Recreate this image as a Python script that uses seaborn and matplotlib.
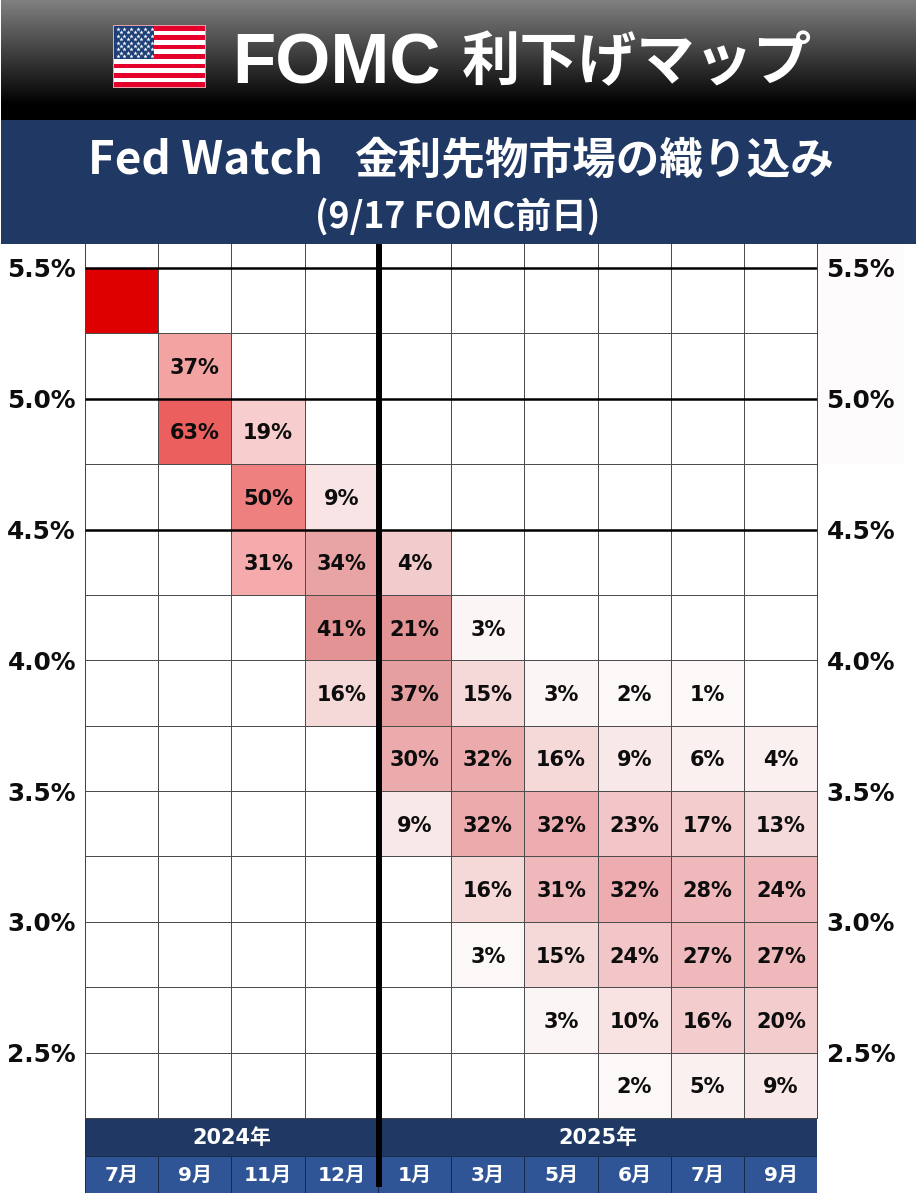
import numpy as np
import pandas as pd
import matplotlib
matplotlib.use('Agg')
import matplotlib.pyplot as plt
from matplotlib.colors import ListedColormap
from matplotlib.patches import Rectangle
import seaborn as sns

months = ['7月', '9月', '11月', '12月', '1月', '3月', '5月', '6月', '7月', '9月']
years = ['2024年', '2025年']
year_spans = [4, 6]
rate_ticks = [5.5, 5.0, 4.5, 4.0, 3.5, 3.0, 2.5]
bold_rates = [5.5, 5.0, 4.5]
row_tops = [5.75, 5.5, 5.25, 5.0, 4.75, 4.5, 4.25, 4.0, 3.75, 3.5, 3.25, 3.0, 2.75, 2.5]

# probabilities printed in the cells, 0 = empty
pct = [
    [0, 0, 0, 0, 0, 0, 0, 0, 0, 0],
    [0, 0, 0, 0, 0, 0, 0, 0, 0, 0],
    [0, 37, 0, 0, 0, 0, 0, 0, 0, 0],
    [0, 63, 19, 0, 0, 0, 0, 0, 0, 0],
    [0, 0, 50, 9, 0, 0, 0, 0, 0, 0],
    [0, 0, 31, 34, 4, 0, 0, 0, 0, 0],
    [0, 0, 0, 41, 21, 3, 0, 0, 0, 0],
    [0, 0, 0, 16, 37, 15, 3, 2, 1, 0],
    [0, 0, 0, 0, 30, 32, 16, 9, 6, 4],
    [0, 0, 0, 0, 9, 32, 32, 23, 17, 13],
    [0, 0, 0, 0, 0, 16, 31, 32, 28, 24],
    [0, 0, 0, 0, 0, 3, 15, 24, 27, 27],
    [0, 0, 0, 0, 0, 0, 3, 10, 16, 20],
    [0, 0, 0, 0, 0, 0, 0, 2, 5, 9],
]

# the fills are hand picked in the original, so each cell points into this palette
palette = ['#ffffff', '#de0000', '#f4a3a3', '#ec5f5f', '#f8cdcd', '#ef8080', '#f8e4e4',
           '#f5abab', '#e8a4a4', '#f2cccc', '#e39394', '#fcf5f5', '#f5d8d8', '#e69fa1',
           '#ebabac', '#edadb0', '#f2c6c8', '#f5dadb', '#efb8ba', '#f8e8e8', '#fbf0f0',
           '#fdf8f8', '#f3cdce', '#f8e2e2']
fill_index = [
    [0, 0, 0, 0, 0, 0, 0, 0, 0, 0],
    [1, 0, 0, 0, 0, 0, 0, 0, 0, 0],
    [0, 2, 0, 0, 0, 0, 0, 0, 0, 0],
    [0, 3, 4, 0, 0, 0, 0, 0, 0, 0],
    [0, 0, 5, 6, 0, 0, 0, 0, 0, 0],
    [0, 0, 7, 8, 9, 0, 0, 0, 0, 0],
    [0, 0, 0, 10, 10, 11, 0, 0, 0, 0],
    [0, 0, 0, 12, 13, 12, 11, 21, 21, 0],
    [0, 0, 0, 0, 14, 14, 12, 19, 20, 20],
    [0, 0, 0, 0, 19, 14, 15, 16, 22, 17],
    [0, 0, 0, 0, 0, 12, 18, 15, 18, 18],
    [0, 0, 0, 0, 0, 21, 12, 16, 18, 18],
    [0, 0, 0, 0, 0, 0, 11, 23, 22, 22],
    [0, 0, 0, 0, 0, 0, 0, 21, 20, 19],
]

W, H = 916, 1200
LEFT, RIGHT, TOP, BOTTOM = 85.0, 817.5, 244, 1118
ROW_H = 65.4
NAVY = '#1f3864'
BLUE = '#2f5597'
LATIN = ['DejaVu Sans', 'Noto Sans CJK JP']
JP = ['Noto Sans CJK JP', 'DejaVu Sans']

sns.set_theme(style='white')
plt.rcParams['font.family'] = LATIN


def axes_px(fig, x0, y0, x1, y1):
    return fig.add_axes([x0 / W, 1 - y1 / H, (x1 - x0) / W, (y1 - y0) / H])


def draw_flag(bg):
    x0, y0, x1, y1 = 114, 26, 205, 87
    bg.add_patch(Rectangle((x0 - 1, y0 - 1), x1 - x0 + 2, y1 - y0 + 2, fc='#e8a0a8', ec='none', zorder=2))
    h = (y1 - y0) / 13
    for i in range(13):
        c = '#e4002b' if i % 2 == 0 else 'white'
        bg.add_patch(Rectangle((x0, y0 + i * h), x1 - x0, h, fc=c, ec='none', zorder=2))
    bg.add_patch(Rectangle((x0, y0), 40, 7 * h, fc='#1c3f78', ec='none', zorder=2))
    for r in range(9):
        n = 6 if r % 2 == 0 else 5
        sx = x0 + 3.5 + (0 if r % 2 == 0 else 3.4) + np.arange(n) * 6.8
        bg.scatter(sx, np.full(n, y0 + 3 + r * 3.4), s=11, c='white', marker='*', linewidths=0, zorder=3)


fig = plt.figure(figsize=(W / 100, H / 100), dpi=100, facecolor='white')

# backdrop in pixel coordinates
bg = axes_px(fig, 0, 0, W, H)
grad = np.concatenate([np.linspace(0.50, 0.0, 105), np.zeros(15)]).reshape(-1, 1)
bg.imshow(grad, cmap='gray', vmin=0, vmax=1, extent=(1, W, 120, 0), aspect='auto', zorder=1)
bg.set_xlim(0, W)
bg.set_ylim(H, 0)
bg.axis('off')
bg.add_patch(Rectangle((1, 120), W, 124, fc=NAVY, ec='none', zorder=1))
bg.add_patch(Rectangle((RIGHT, TOP), 86, 220, fc='#fdfbfc', ec='none', zorder=1))
draw_flag(bg)

bg.text(232, 83, 'FOMC', family='Liberation Sans', weight='bold', fontsize=51, color='white', va='baseline', ha='left')
bg.text(462, 80, '利下げマップ', family=JP, weight='bold', fontsize=42, color='white', va='baseline', ha='left')
bg.text(88, 174, 'Fed Watch', family=JP, weight='bold', fontsize=33, color='white', va='baseline', ha='left')
bg.text(354, 174, '金利先物市場の織り込み', family=JP, weight='bold', fontsize=31.4, color='white', va='baseline', ha='left')
bg.text(458, 228, '(9/17 FOMC前日)', family=JP, weight='bold', fontsize=25.7, color='white', va='baseline', ha='center')

# main grid
ax = axes_px(fig, LEFT, TOP, RIGHT, BOTTOM)
ax.set_zorder(5)
df = pd.DataFrame(fill_index, index=row_tops, columns=range(len(months)))
labels = np.array([[f'{v}%' if v else '' for v in row] for row in pct])
sns.heatmap(df, ax=ax, cmap=ListedColormap(palette), vmin=-0.5, vmax=len(palette) - 0.5, cbar=False,
            annot=labels, fmt='',
            annot_kws={'fontsize': 15, 'fontweight': 'bold', 'color': '#0d0d0d', 'va': 'center_baseline'},
            linewidths=0.45, linecolor='#4d4d4d', square=False)

n_rows = len(row_tops)
ax.set_ylim(n_rows, 1 - (268 - TOP) / ROW_H)
ticks = [(row_tops[0] - r) / 0.25 for r in rate_ticks]
ax.set_yticks(ticks)
ax.set_yticklabels([f'{r:.1f}%' for r in rate_ticks], rotation=0, fontsize=17.8, fontweight='bold', color='#0d0d0d')
ax.set_xticks([])
ax.set_xlabel('')
ax.tick_params(axis='y', length=0, pad=6.5, labelleft=True, labelright=True)
for tick in ax.yaxis.get_major_ticks():
    tick.label1.set_va('center_baseline')
    tick.label2.set_va('center_baseline')
ax.hlines([(row_tops[0] - r) / 0.25 for r in bold_rates], 0, len(months), color='black', lw=1.8, zorder=4)
for side in ['left', 'right', 'bottom']:
    ax.spines[side].set_visible(True)
    ax.spines[side].set_color('#444444')
    ax.spines[side].set_linewidth(0.7)
ax.spines['top'].set_visible(False)

split = year_spans[0]
ax.plot([split + 0.01, split + 0.01], [1 - (268 - TOP) / ROW_H, n_rows + (1187 - BOTTOM) / ROW_H],
        color='black', lw=4.3, clip_on=False, zorder=6, solid_capstyle='butt')

# year band
ax_year = axes_px(fig, LEFT, BOTTOM, RIGHT, 1156)
ax_year.set_xlim(0, len(months))
ax_year.set_ylim(0, 1)
ax_year.axis('off')
start = 0
for name, span in zip(years, year_spans):
    ax_year.add_patch(Rectangle((start, 0), span, 1, fc=NAVY, ec='#16294a', lw=0.7))
    ax_year.text(start + span / 2, 0.48, name, ha='center', va='center',
                 color='white', fontsize=15, fontweight='bold')
    start += span

# month band
ax_month = axes_px(fig, LEFT, 1156, RIGHT, 1192.5)
ax_month.set_xlim(0, len(months))
ax_month.set_ylim(0, 1)
ax_month.axis('off')
for i, name in enumerate(months):
    ax_month.add_patch(Rectangle((i, 0), 1, 1, fc=BLUE, ec='#16294a', lw=0.7))
    ax_month.text(i + 0.5, 0.48, name, ha='center', va='center', color='white', fontsize=14.5, fontweight='bold')

fig.savefig('out.png', dpi=100)
